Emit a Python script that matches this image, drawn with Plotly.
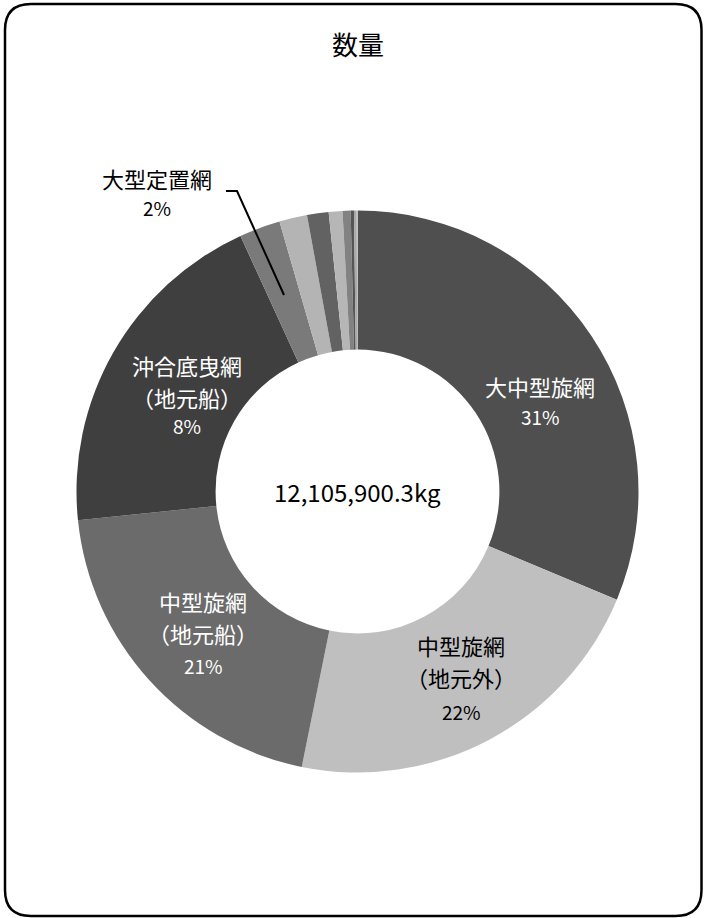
import plotly.graph_objects as go

# ---- data ----
categories = ["大中型旋網", "中型旋網（地元外）", "中型旋網（地元船）", "沖合底曳網（地元船）",
              "大型定置網", "その他1", "その他2", "その他3", "その他4", "その他5", "その他6", "その他7"]
shares = [31.3, 21.9, 20.2, 19.8, 2.36, 1.6, 1.24, 0.79, 0.46, 0.19, 0.16, 0.04]
pct_labels = ["31%", "22%", "21%", "8%", "2%", "", "", "", "", "", "", ""]
total_label = "12,105,900.3kg"
title_text = "数量"

# ---- styles ----
colors = ["#4f4f4f", "#bfbfbf", "#6b6b6b", "#3f3f3f", "#7a7a7a", "#b4b4b4",
          "#626262", "#b6b6b6", "#828282", "#555555", "#a8a8a8", "#e0e0e0"]
W, H = 704, 918
FONT = "Noto Sans CJK JP"


def px(x):
    return x / W


def py(y):
    return 1 - y / H


cx, cy, r = 357.5, 491.5, 281

fig = go.Figure(go.Pie(
    labels=categories,
    values=shares,
    textinfo="none",
    marker=dict(colors=colors, line=dict(width=0)),
    hole=0.505,
    sort=False,
    direction="clockwise",
    rotation=0,
    domain=dict(x=[px(cx - r), px(cx + r)], y=[py(cy + r), py(cy - r)]),
    showlegend=False,
    hoverinfo="label+value",
))

# label layout: (x center, [y of each line], text colour) for labelled slices
label_layout = {
    0: (540, [386, 417], "white"),
    1: (461, [645, 677, 711], "black"),
    2: (203, [601, 633, 665], "white"),
    3: (187, [365, 397, 425], "white"),
    4: (157, [178, 208], "black"),
}


def split_name(name):
    if "（" in name:
        a, b = name.split("（", 1)
        return [a, "（" + b]
    return [name]


annotations = [
    dict(text=title_text, x=px(358), y=py(43), xref="paper", yref="paper",
         xanchor="center", yanchor="middle", showarrow=False,
         font=dict(family=FONT, size=26, color="black")),
    dict(text=total_label, x=px(cx), y=py(cy), xref="paper", yref="paper",
         xanchor="center", yanchor="middle", showarrow=False,
         font=dict(family=FONT, size=24, color="black")),
]
for idx, (lx, ys, col) in label_layout.items():
    lines = split_name(categories[idx]) + [pct_labels[idx]]
    for j, (line, ly) in enumerate(zip(lines, ys)):
        is_pct = j == len(lines) - 1
        annotations.append(dict(
            text=line, x=px(lx), y=py(ly), xref="paper", yref="paper",
            xanchor="center", yanchor="middle", showarrow=False,
            font=dict(family=FONT, size=19 if is_pct else 22, color=col)))

# rounded frame
x0, x1, y0, y1, rad = 5, 701.5, 4, 916, 26
path = (f"M {px(x0 + rad)},{py(y0)} L {px(x1 - rad)},{py(y0)} "
        f"Q {px(x1)},{py(y0)} {px(x1)},{py(y0 + rad)} "
        f"L {px(x1)},{py(y1 - rad)} Q {px(x1)},{py(y1)} {px(x1 - rad)},{py(y1)} "
        f"L {px(x0 + rad)},{py(y1)} Q {px(x0)},{py(y1)} {px(x0)},{py(y1 - rad)} "
        f"L {px(x0)},{py(y0 + rad)} Q {px(x0)},{py(y0)} {px(x0 + rad)},{py(y0)} Z")

leader = f"M {px(226)},{py(191)} L {px(237)},{py(191)} L {px(284)},{py(295)}"

fig.update_layout(
    width=W, height=H,
    margin=dict(l=0, r=0, t=0, b=0),
    paper_bgcolor="white",
    plot_bgcolor="white",
    font=dict(family=FONT),
    shapes=[
        dict(type="path", path=path, xref="paper", yref="paper",
             line=dict(color="black", width=2.5), fillcolor="rgba(0,0,0,0)"),
        dict(type="path", path=leader, xref="paper", yref="paper",
             line=dict(color="black", width=2)),
    ],
    annotations=annotations,
)

fig.write_html("out.html", config={"displayModeBar": False},
               post_script="document.body.style.margin='0';document.body.style.overflow='hidden';")
